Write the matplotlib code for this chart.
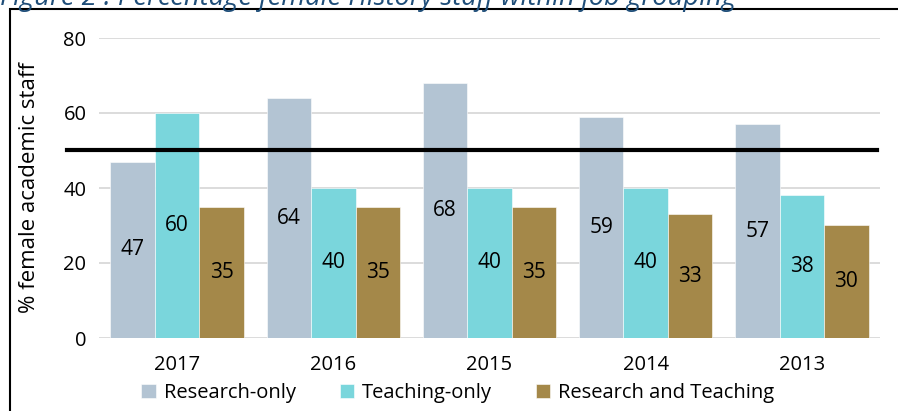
import numpy as np
import matplotlib
matplotlib.use('Agg')
import matplotlib.pyplot as plt
from matplotlib.patches import Rectangle

# data
years = ['2017', '2016', '2015', '2014', '2013']
research_only = [47, 64, 68, 59, 57]
teaching_only = [60, 40, 40, 40, 38]
research_teaching = [35, 35, 35, 33, 30]
series_names = ['Research-only', 'Teaching-only', 'Research and Teaching']
colors = ['#B3C4D3', '#7AD6DC', '#A48849']
parity = 50

plt.rcParams['font.family'] = ['Open Sans', 'DejaVu Sans']

fig = plt.figure(figsize=(8.98, 4.11), dpi=100)
ax = fig.add_axes([99 / 898, 73 / 411, 781 / 898, 300 / 411])

x = np.arange(len(years))
w = 0.285
for i, vals in enumerate([research_only, teaching_only, research_teaching]):
    bars = ax.bar(x + (i - 1) * w, vals, w, color=colors[i], label=series_names[i],
                  edgecolor='white', linewidth=0.4, zorder=2)
    for b, v in zip(bars, vals):
        ax.text(b.get_x() + b.get_width() / 2, v / 2, str(v), ha='center', va='center',
                fontsize=15, color='black', zorder=4)

# 50% reference line
ax.axhline(parity, xmin=-0.041, xmax=0.996, color='black', lw=3, clip_on=False, zorder=3)

ax.set_xlim(-0.5, len(years) - 0.5)
ax.set_ylim(0, 80)
ax.set_yticks([0, 20, 40, 60, 80])
ax.set_xticks(x)
ax.set_xticklabels(years)
ax.tick_params(axis='both', length=0, labelsize=14.5, pad=9)
ax.tick_params(axis='x', pad=12)
ax.grid(axis='y', color='#D9D9D9', lw=1.3, zorder=0)
ax.set_axisbelow(True)
for s in ax.spines.values():
    s.set_visible(False)
ax.set_ylabel('% female academic staff', fontsize=16)
ax.yaxis.set_label_coords(-0.075, 0.5)

fig.legend(loc='center', bbox_to_anchor=(458 / 898, 1 - 393 / 411), ncol=3, frameon=False,
           fontsize=14.5, handlelength=0.7, handleheight=0.7, handletextpad=0.4,
           columnspacing=2.2, borderpad=0)

# outer frame and cut-off caption
fig.patches.append(Rectangle((10 / 898, -0.1), 1.0, 1.1 - 9.5 / 411, transform=fig.transFigure,
                             fill=False, edgecolor='black', lw=1.5))
fig.text(0, 1 - 5 / 411, 'Figure 2 : Percentage female History staff within job grouping',
         fontsize=19.7, style='italic', color='#1F4E79', va='baseline', ha='left')

fig.savefig('out.png', dpi=100)
